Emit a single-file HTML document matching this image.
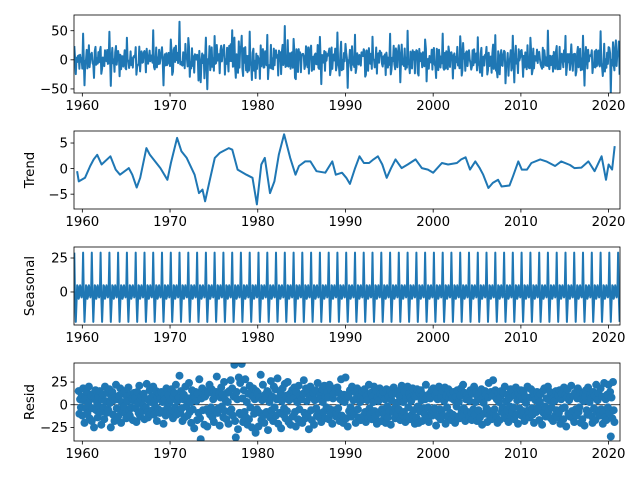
<!DOCTYPE html>
<html><head><meta charset="utf-8"><style>
body{margin:0;background:#fff;}
svg{display:block;font-family:"DejaVu Sans","Liberation Sans",sans-serif;}
</style></head><body>
<svg id="chart" width="640" height="480" xmlns="http://www.w3.org/2000/svg"></svg>
<script>
// ---- data ----
const seasonalPattern = [-1, 29, -3, -22, -8, 5, 4, -5, -3, 5, 2, -4]; // Jan..Dec
const trendYears = [1959.4,1959.6,1960.3,1960.9,1961.3,1961.7,1962.2,1963.2,1963.8,1964.3,1965.3,1965.7,1966.2,1966.6,1967.3,1967.7,1968.3,1968.9,1969.7,1970.1,1970.8,1971.3,1971.9,1972.8,1973.3,1973.7,1974.0,1974.5,1975.1,1975.7,1976.7,1977.1,1977.7,1978.7,1979.4,1979.9,1980.4,1980.8,1981.4,1981.9,1982.4,1983.0,1983.7,1984.3,1984.7,1985.4,1986.0,1986.7,1987.7,1988.5,1988.9,1989.6,1990.1,1990.5,1991.1,1991.6,1992.1,1992.7,1993.2,1993.7,1994.2,1994.7,1995.2,1995.7,1996.4,1997.1,1998.0,1998.7,1999.4,2000.0,2001.0,2001.7,2002.7,2003.2,2003.7,2004.2,2004.8,2005.3,2005.7,2006.3,2006.8,2007.4,2007.8,2008.7,2009.1,2009.7,2010.1,2010.7,2011.2,2012.2,2012.9,2013.9,2014.6,2015.6,2016.1,2016.9,2017.7,2018.4,2019.2,2019.7,2020.0,2020.4,2020.7];
const trendValues = [-0.5,-2.5,-1.8,0.5,1.8,2.7,0.8,2.4,-0.2,-1.2,0.1,-1.2,-3.7,-1.8,4.0,2.7,1.4,0.1,-2.2,1.1,6.0,3.4,2.1,-1.2,-4.8,-4.1,-6.4,-2.5,2.1,3.1,4.0,3.7,-0.2,-1.2,-1.8,-7.0,0.8,2.1,-4.8,-2.5,2.7,6.7,2.1,-1.2,0.5,1.4,1.4,-0.5,-0.8,1.4,-1.2,-0.8,-1.8,-3.0,0.1,2.4,1.1,1.1,1.8,2.4,0.8,-1.8,0.1,1.8,0.1,0.8,1.8,0.1,-0.2,-0.8,1.1,0.8,1.1,1.8,2.2,-0.2,1.4,0.1,-1.2,-3.8,-2.8,-2.2,-3.5,-3.3,-1.5,1.4,-0.2,-0.2,1.1,1.8,1.4,0.5,1.4,0.7,0.1,0.2,1.4,-0.5,2.4,-2.2,0.8,-0.2,4.4];
const residValues = [
3,-5,8,-2,12,-8,4,15,-10,6,-3,9,
-12,18,5,-20,7,-4,14,-9,2,20,-15,6,
10,-18,-4,12,-25,8,16,-6,3,-14,9,-2,
15,-8,-22,6,11,-3,-16,20,4,-9,13,-5,
-7,17,2,-25,9,14,-11,5,-18,8,22,-4,
6,-13,10,-5,18,-20,3,12,-8,-2,15,-10,
-15,9,4,19,-6,-12,11,-3,7,-17,5,13,
8,-4,-19,14,2,-9,21,-13,6,10,-7,-1,
12,-16,7,-3,23,-8,-14,5,16,-10,3,9,
-6,20,-11,4,-2,15,-18,8,-5,12,-9,6,
14,-7,3,-21,10,6,-12,18,-4,-8,11,2,
-10,5,17,-6,-15,9,13,-3,22,-11,4,-7,
8,32,-9,15,-4,-18,6,11,-14,20,-2,5,
-12,7,24,-8,3,-20,16,-5,10,-26,9,14,
4,-17,12,-9,28,-15,-38,7,18,-6,11,-22,
9,15,-5,-24,13,-8,22,-11,-3,17,-14,6,
-19,10,-6,14,31,-9,-4,12,-23,8,19,-2,
11,-14,25,-7,5,-16,13,3,-21,15,-8,27,
-5,18,-12,9,44,-18,-36,14,6,-27,30,-9,
24,-11,45,7,-19,16,-8,28,-14,3,-22,12,
-16,21,-3,14,-25,9,18,-10,6,-31,15,-5,
13,-24,8,-9,33,-17,5,22,-12,-20,11,7,
-8,15,-28,12,3,-14,26,-6,9,-18,20,-3,
17,-12,6,29,-21,8,-9,14,-26,4,18,-11,
-4,23,-15,10,-7,25,-19,5,12,-22,8,16,
-13,7,19,-8,-24,14,3,-16,21,-5,10,-18,
6,-20,12,27,-9,-15,18,4,-11,15,-27,9,
20,-6,-17,8,13,-22,5,16,-4,-12,24,-9,
-14,11,6,-19,17,3,-8,21,-15,9,-3,14,
8,-16,22,-5,-10,15,-21,7,12,-6,18,-13,
-9,19,-4,13,-18,6,28,-12,4,-20,11,3,
30,-15,8,-24,10,-7,16,-3,-13,20,-9,5,
-11,14,-20,7,18,-5,-14,11,3,-17,9,15,
6,-12,17,-8,-19,10,5,-15,22,-4,-10,13,
-16,9,3,20,-7,-13,15,-21,8,4,-9,18,
12,-18,-5,10,14,-11,6,-20,17,-2,-14,9,
-7,16,-22,5,11,-8,19,-4,-15,13,2,-10,
15,-5,9,-17,6,21,-12,3,-8,14,-19,7,
-13,20,-3,12,-16,8,4,-11,18,-6,10,-21,
9,-14,17,-2,-20,13,-7,16,5,-18,11,-4,
-10,6,22,-15,8,-3,-19,12,7,-9,16,-12,
18,-8,-4,11,-23,14,6,-13,20,-5,-16,9,
-6,15,-12,4,19,-21,10,-3,-14,17,8,-9,
12,-17,7,-11,14,5,-20,9,-2,16,-13,3,
-15,10,18,-7,-12,22,-4,13,-18,6,11,-8,
7,-13,4,16,-9,-17,12,-5,20,-11,3,14,
-18,9,-6,13,-14,6,17,-22,8,2,-10,15,
11,-4,-19,8,24,-12,-7,14,-16,10,27,-9,
-5,16,-13,6,-20,12,3,-17,9,15,-8,-3,
13,-10,20,-15,4,-6,11,-19,7,-2,17,-12,
-8,14,-3,-16,10,19,-11,5,-21,12,-4,8,
16,-12,6,-7,15,-18,9,2,-13,20,-6,-10,
-14,8,17,-4,-11,13,-20,10,5,-8,14,-3,
9,-17,3,12,-6,-22,15,-9,18,-2,-13,7,
-11,20,-7,5,14,-15,-3,11,-18,8,4,-12,
15,-6,-14,10,-9,16,-21,6,12,-4,-16,19,
-3,11,-24,8,17,-10,5,-13,9,21,-7,-15,
10,-19,13,-5,-12,7,18,-8,-3,14,-20,6,
-16,12,4,-23,9,16,-6,-11,19,-9,3,11,
7,-13,-20,14,-4,10,-17,22,-8,5,13,-6,
-12,18,-5,9,-21,-8,24,-14,6,-17,11,-3,
22,-9,14,-35,8,-15,25,-6,-19,12,27,-11,
10,-22,30,-8,5,-14,9,-6,4,-3,7,2];
const xTicks = [1960,1970,1980,1990,2000,2010,2020];
const obsTicks = [-50,0,50];
const trendTicks = [-5,0,5];
const seasTicks = [0,25];
const residTicks = [-25,0,25];
const startYear = 1959, firstMonth = 1, lastMonth = 747, residStart = 7, residEnd = 740;

// ---- helpers ----
const svg = document.getElementById('chart');
const NS = 'http://www.w3.org/2000/svg';
const X0 = 74, X1 = 620, XMIN = 1959.05, XMAX = 2021.3;
const xScale = y => X0 + (y - XMIN) / (XMAX - XMIN) * (X1 - X0);
function mk(tag, attrs, parent){const e=document.createElementNS(NS,tag);for(const k in attrs)e.setAttribute(k,attrs[k]);(parent||svg).appendChild(e);return e;}
function trendAt(t){
  if(t<=trendYears[0])return trendValues[0];
  const n=trendYears.length;
  if(t>=trendYears[n-1])return trendValues[n-1];
  for(let i=1;i<n;i++){if(t<=trendYears[i]){const f=(t-trendYears[i-1])/(trendYears[i]-trendYears[i-1]);return trendValues[i-1]+f*(trendValues[i]-trendValues[i-1]);}}
}
const panels = [
  {name:'observed', top:15, bot:93, vmax:77, vmin:-57, ticks:obsTicks, label:''},
  {name:'trend', top:131, bot:209, vmax:7.35, vmin:-7.9, ticks:trendTicks, label:'Trend'},
  {name:'seasonal', top:247, bot:325, vmax:33.1, vmin:-24.3, ticks:seasTicks, label:'Seasonal'},
  {name:'resid', top:363, bot:441, vmax:46, vmin:-40, ticks:residTicks, label:'Resid'}
];
panels.forEach(p=>{
  const ys = v => p.bot - (v - p.vmin)/(p.vmax - p.vmin)*(p.bot - p.top);
  const g = mk('g',{});
  
  
  const clipId='clip-'+p.name;
  const cp=mk('clipPath',{id:clipId},g); mk('rect',{x:X0,y:p.top,width:X1-X0,height:p.bot-p.top},cp);
  const plot=mk('g',{'clip-path':'url(#'+clipId+')'},g);
  if(p.name==='trend'){
    const pts=trendYears.map((t,i)=>xScale(t).toFixed(1)+','+ys(trendValues[i]).toFixed(1)).join(' ');
    const l=mk('polyline',{points:pts,fill:'none',stroke:'#1f77b4','stroke-width':2,'stroke-linejoin':'round'},plot);
    
    
  } else if(p.name==='resid'){
    const z=mk('line',{x1:X0,x2:X1,y1:ys(0),y2:ys(0),stroke:'#000','stroke-width':0.8},plot);
    
    
    for(let i=residStart;i<=residEnd;i++){
      const c=mk('circle',{cx:xScale(startYear+i/12).toFixed(1),cy:ys(residValues[i]).toFixed(1),r:4,fill:'#1f77b4'},plot);
      
      
    }
  } else {
    const pts=[];
    for(let i=firstMonth;i<=lastMonth;i++){
      const t=startYear+i/12;
      const s=seasonalPattern[i%12];
      const v = p.name==='seasonal' ? s : trendAt(t)+s+residValues[i];
      pts.push(xScale(t).toFixed(1)+','+ys(v).toFixed(1));
    }
    const l=mk('polyline',{points:pts.join(' '),fill:'none',stroke:'#1f77b4','stroke-width':2,'stroke-linejoin':'round'},plot);
    
    
  }
  const fr=mk('rect',{x:X0,y:p.top,width:X1-X0,height:p.bot-p.top,fill:'none',stroke:'#000','stroke-width':0.8},g);
  
  
  xTicks.forEach(t=>{
    const x=xScale(t);
    mk('line',{x1:x,x2:x,y1:p.bot,y2:p.bot+3.5,stroke:'#000','stroke-width':0.8},g);
    const tx=mk('text',{x:x,y:p.bot+17,'text-anchor':'middle','font-size':'13.3px',fill:'#000'},g);
    tx.textContent=t;
    
    
  });
  p.ticks.forEach(v=>{
    const y=ys(v);
    mk('line',{x1:X0-3.5,x2:X0,y1:y,y2:y,stroke:'#000','stroke-width':0.8},g);
    const tx=mk('text',{x:X0-6,y:y+4.7,'text-anchor':'end','font-size':'13.3px',fill:'#000'},g);
    tx.textContent=v<0?'\u2212'+Math.abs(v):v;
    
    
  });
  if(p.label){
    const cy=(p.top+p.bot)/2;
    const tx=mk('text',{x:34,y:cy,'text-anchor':'middle','font-size':'13.3px',fill:'#000',transform:'rotate(-90 34 '+cy+')'},g);
    tx.textContent=p.label;
    
    
  }
});
</script>
</body></html>
